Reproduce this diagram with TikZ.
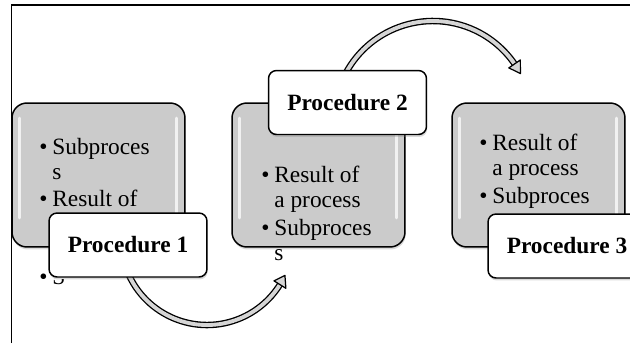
\documentclass[tikz,border=0pt]{standalone}
\usepackage{fontspec}
\setmainfont{Liberation Serif}
\usetikzlibrary{calc,shadows}
\definecolor{boxgray}{HTML}{CBCBCB}
\definecolor{arrowgray}{HTML}{D6D6D6}
\newcommand{\pitem}[1]{\makebox[0.26cm][l]{\textbullet}#1}
\newcommand{\pcont}[1]{\hspace*{0.26cm}#1}
\def\bentarrow(#1)(#2:#3:#4:#5){%
	\draw[line width=3.7pt] ($(#1)+(#3:#2)$) arc (#3:#4:#2);
	\draw[line width=2.2pt, color=arrowgray] ($(#1)+(#3:#2)$) arc (#3:#4:#2);
	\draw[fill=arrowgray, line width=0.7pt, line join=round] ($(#1)+(#4:#2-7)$) -- ($(#1)+(#5:#2)$) -- ($(#1)+(#4:#2+7)$) -- cycle;}
\tikzset{
	stepbox/.style={draw, line width=0.85pt, rounded corners=0.3cm, fill=boxgray, minimum width=3.46cm, minimum height=2.88cm, inner sep=0pt, drop shadow={opacity=0.3, shadow xshift=0.4pt, shadow yshift=-1.4pt}},
	procbox/.style={draw, line width=0.85pt, rounded corners=0.16cm, fill=white, minimum width=3.16cm, minimum height=1.28cm, inner sep=0pt, font=\fontsize{13.3}{16}\selectfont\bfseries, drop shadow={opacity=0.3, shadow xshift=0.4pt, shadow yshift=-1.4pt}},
	steptext/.style={inner sep=0pt, align=left, font=\fontsize{13.3}{14.2}\selectfont},
	highlight/.style={white, line width=2pt, line cap=round, opacity=0.75}
}

\begin{document}
\begin{tikzpicture}[x=0.02cm, y=0.02cm]
		%%%%% START %%%%%
		\clip (0, 0) rectangle (630, 343);
		
		\draw[line width=1pt] (11.5, 0) -- (11.5, 338) -- (630, 338);
		
		% gray step boxes
		\node[stepbox] (box1) at (98.5, 168) {};
		\node[stepbox] (box2) at (318.5, 168) {};
		\node[stepbox] (box3) at (538.5, 168) {};
		
		\draw[highlight] ($(box1.north west)+(8, -16)$) -- ($(box1.south west)+(8, 30)$);
		\draw[highlight] ($(box1.north east)+(-9, -16)$) -- ($(box1.south east)+(-9, 30)$);
		\draw[highlight] ($(box2.north west)+(8, -16)$) -- ($(box2.south west)+(8, 30)$);
		\draw[highlight] ($(box2.north east)+(-9, -16)$) -- ($(box2.south east)+(-9, 30)$);
		\draw[highlight] ($(box3.north west)+(8, -16)$) -- ($(box3.south west)+(8, 30)$);
		\draw[highlight] ($(box3.north east)+(-9, -16)$) -- ($(box3.south east)+(-9, 30)$);
		
		% box texts
		\node[steptext, anchor=north west] (list1) at (39, 205.5) {\pitem{Subproces}\\ \pcont{s}\\[0.06cm] \pitem{Result of}\\ \pcont{a process}};
		\begin{scope}
			\clip (30, 40) rectangle (48, 96) (48, 40) rectangle (64, 64.5);
			\node[steptext, anchor=base west] (more1) at (39, 59) {\pitem{Subproces}};
		\end{scope}
		\node[steptext, anchor=north west] (list2) at (261, 177) {\pitem{Result of}\\ \pcont{a process}\\[0.06cm] \pitem{Subproces}\\ \pcont{s}};
		\node[steptext, anchor=north west] (list3) at (479, 209) {\pitem{Result of}\\ \pcont{a process}\\[0.06cm] \pitem{Subproces}\\ \pcont{s}};
		
		% bent arrows
		\coordinate (turn1) at (207, 104);
		\coordinate (turn2) at (433, 223);
		\bentarrow(turn1)(86:200:328:335)
		\bentarrow(turn2)(99:155:34.5:28)
		
		% procedure labels
		\node[procbox] (proc1) at (128, 98) {Procedure 1};
		\node[procbox] (proc2) at (347.5, 240.5) {Procedure 2};
		\node[procbox] (proc3) at (567, 97) {Procedure 3};
		
		%%%%% END %%%%%
\end{tikzpicture}
\end{document}
